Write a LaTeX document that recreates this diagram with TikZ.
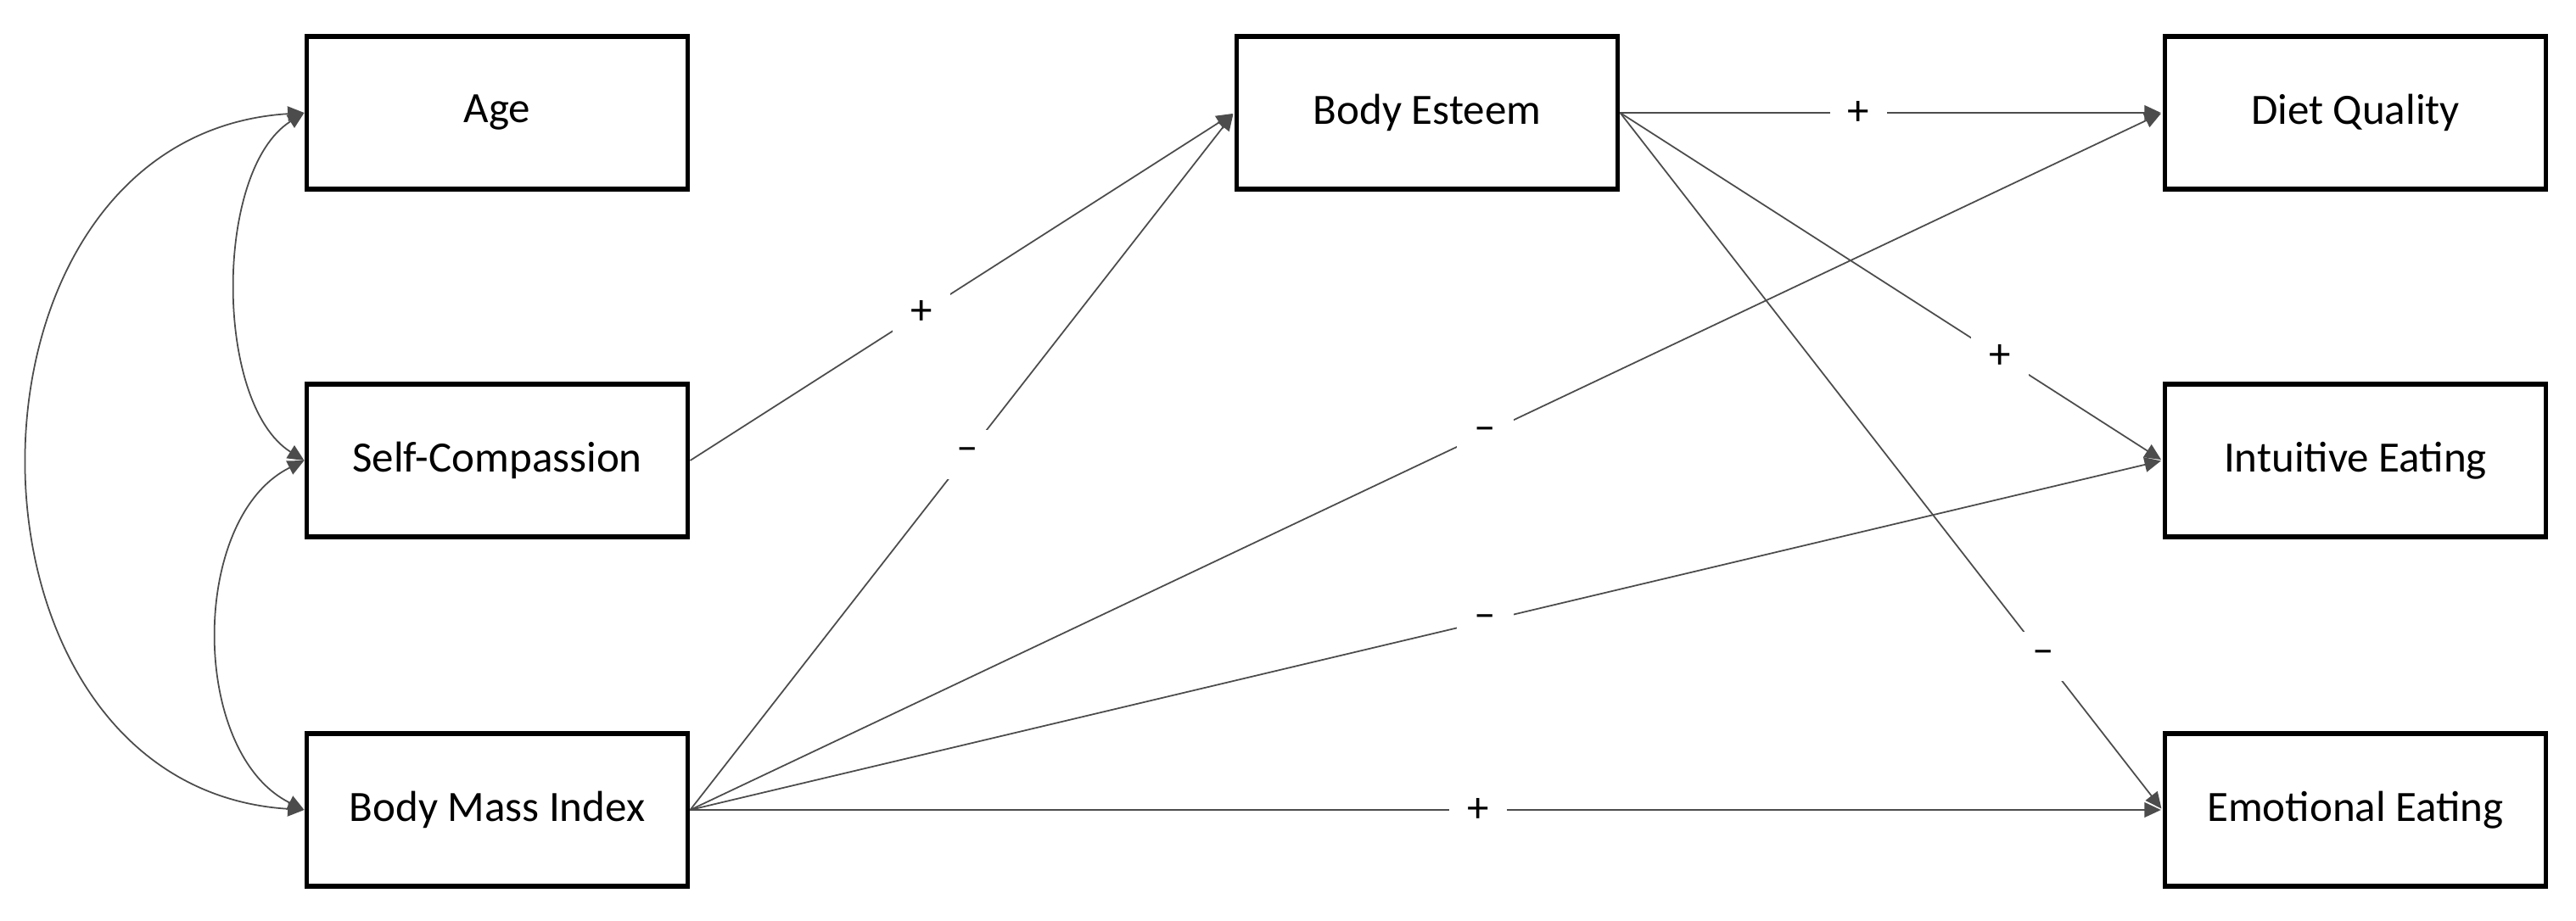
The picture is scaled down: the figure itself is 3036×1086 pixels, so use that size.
\documentclass[tikz,border=0pt]{standalone}
\usepackage{fontspec}
\setmainfont{Carlito}
\usetikzlibrary{arrows.meta}
\begin{document}
\begin{tikzpicture}[x=0.01cm,y=-0.01cm,
  box/.style={draw,line width=1.6pt,minimum width=449\pgflinewidth,inner sep=0pt,font=\fontsize{14.5}{17}\selectfont},
  conn/.style={draw=black!70,line width=0.5pt,-{Triangle[length=5.5pt,width=5pt]},shorten >=0.5pt},
  bi/.style={draw=black!70,line width=0.5pt,{Triangle[length=5.5pt,width=5pt]}-{Triangle[length=5.5pt,width=5pt]}},
  lab/.style={fill=white,inner sep=6pt,font=\fontsize{14.5}{17}\selectfont}]
\useasboundingbox (0,0) rectangle (3036,1086);
\tikzset{bx/.style={box,minimum width=12.77cm*0.01/0.01*0+0.01cm,}}
\newcommand{\mybox}[4]{\node[draw,line width=1.6pt,minimum width=4.49cm,minimum height=1.8cm,inner sep=0pt,font=\fontsize{14.5}{17}\selectfont] (#1) at (#2,#3) {#4};}
\mybox{age}{586}{133}{Age}
\mybox{sc}{586}{543}{Self-Compassion}
\mybox{bmi}{586}{955}{Body Mass Index}
\mybox{be}{1682}{133}{Body Esteem}
\mybox{dq}{2776}{133}{Diet Quality}
\mybox{ie}{2776}{543}{Intuitive Eating}
\mybox{ee}{2776}{955}{Emotional Eating}
\draw[bi] (age.west) .. controls (252,200) and (252,476) .. (sc.west);
\draw[bi] (sc.west) .. controls (223,610) and (223,888) .. (bmi.west);
\draw[bi] (age.west) .. controls (-74,160) and (-74,928) .. (bmi.west);
\draw[conn] (sc.east) -- node[lab,pos=0.425]{+} (be.west);
\draw[conn] (bmi.east) -- node[lab,pos=0.51]{–} (be.west);
\draw[conn] (bmi.east) -- node[lab,pos=0.54]{–} (dq.west);
\draw[conn] (bmi.east) -- node[lab,pos=0.54]{–} (ie.west);
\draw[conn] (bmi.east) -- node[lab,pos=0.535]{+} (ee.west);
\draw[conn] (be.east) -- node[lab,pos=0.44]{+} (dq.west);
\draw[conn] (be.east) -- node[lab,pos=0.70]{+} (ie.west);
\draw[conn] (be.east) -- node[lab,pos=0.78]{–} (ee.west);
\end{tikzpicture}
\end{document}
